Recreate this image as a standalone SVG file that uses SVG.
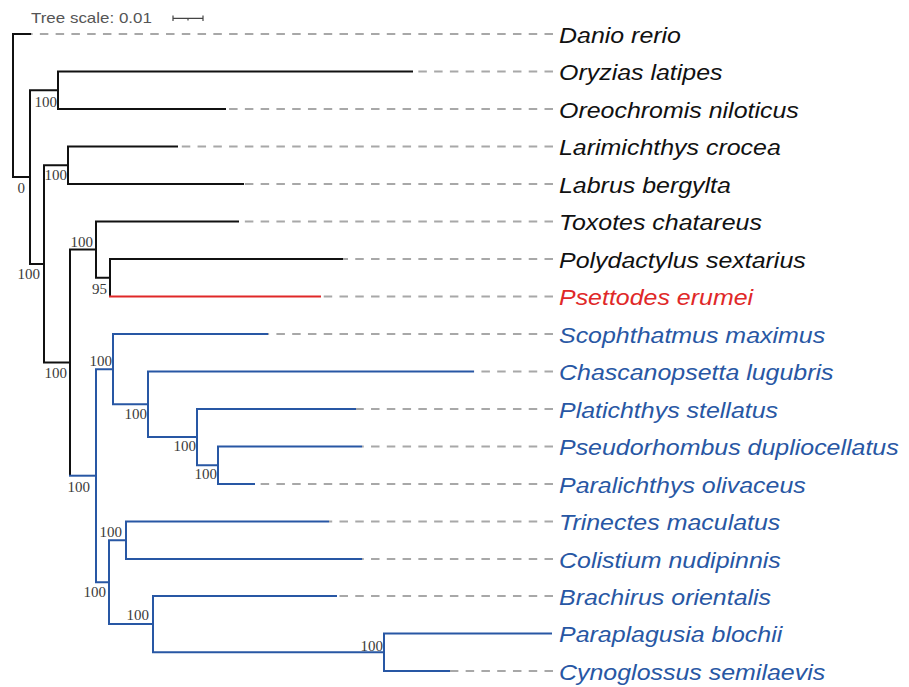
<svg xmlns="http://www.w3.org/2000/svg" width="909" height="687" viewBox="0 0 909 687">
<style>
.br{fill:none;stroke:#111;stroke-width:2;stroke-linejoin:miter;stroke-linecap:butt}
.bl{fill:none;stroke:#2857a4;stroke-width:2;stroke-linejoin:miter;stroke-linecap:butt}
.rd{fill:none;stroke:#e02828;stroke-width:2}
.ds{fill:none;stroke:#a8a8a8;stroke-width:2;stroke-dasharray:8.5 7.27}
.lb{font-family:"Liberation Sans",Arial,sans-serif;font-style:italic;font-size:23px}
.k{fill:#111}.b{fill:#2857a4}.r{fill:#e02828}
.bs{font-family:"Liberation Serif","Times New Roman",serif;font-size:15px;fill:#3a3a3a;text-anchor:end}
</style>
<rect width="909" height="687" fill="#fff"/>
<g id="scale">
<text transform="translate(31,22.5) scale(1.13,1)" font-family="Liberation Sans, Arial, sans-serif" font-size="15" fill="#555">Tree scale: 0.01</text>
<path d="M173,18.3 H203 M173,15.5 V21 M203,15.5 V21 M188,18.3 V20.5" stroke="#444" stroke-width="1.2" fill="none"/>
</g>
<g id="connectors">
<path class="ds" d="M553,34 H31"/>
<path class="ds" d="M553,71.5 H413"/>
<path class="ds" d="M553,109 H226"/>
<path class="ds" d="M553,146.5 H178"/>
<path class="ds" d="M553,184 H244"/>
<path class="ds" d="M553,221.5 H239"/>
<path class="ds" d="M553,259 H343"/>
<path class="ds" d="M553,296.5 H321"/>
<path class="ds" d="M553,334 H268"/>
<path class="ds" d="M553,371.5 H474"/>
<path class="ds" d="M553,409 H356"/>
<path class="ds" d="M553,446.5 H362"/>
<path class="ds" d="M553,484 H255"/>
<path class="ds" d="M553,521.5 H329"/>
<path class="ds" d="M553,559 H362"/>
<path class="ds" d="M553,596 H337"/>
<path class="ds" d="M553,671 H450"/>
<path id="e-root" class="br" d="M31,34 H13 V177.1 H30"/>
<path id="e-A" class="br" d="M58,90.25 H30 V263.9 H44"/>
<path id="e-P1" class="br" d="M413,71.5 H58 V109 H226"/>
<path id="e-B" class="br" d="M68,165.25 H44 V362.6 H70"/>
<path id="e-P2" class="br" d="M178,146.5 H68 V184 H244"/>
<path id="e-C" class="br" d="M96,249.6 H70 V475.7"/>
<path class="bl" d="M69,475.7 H96"/>
<path id="e-D" class="br" d="M239,221.5 H96 V277.75 H110"/>
<path id="e-E" class="br" d="M343,259 H110 V296.5"/>
<path class="rd" d="M109,296.5 H321"/>
<path id="e-F" class="bl" d="M113,369.2 H96 V582.2 H109"/>
<path id="e-G" class="bl" d="M268,334 H113 V404.3 H148"/>
<path id="e-H" class="bl" d="M474,371.5 H148 V437.1 H197"/>
<path id="e-I" class="bl" d="M356,409 H197 V465.25 H218"/>
<path id="e-J" class="bl" d="M362,446.5 H218 V484 H255"/>
<path id="e-K" class="bl" d="M126,540.25 H109 V624.1 H153"/>
<path id="e-L" class="bl" d="M329,521.5 H126 V559 H362"/>
<path id="e-M" class="bl" d="M337,596 H153 V652.25 H384"/>
<path id="e-N" class="bl" d="M552,633.5 H384 V671 H450"/>
</g>
<g id="support">
<text class="bs" x="25" y="193">0</text>
<text class="bs" x="57" y="107">100</text>
<text class="bs" x="67" y="180">100</text>
<text class="bs" x="40" y="279">100</text>
<text class="bs" x="67" y="378">100</text>
<text class="bs" x="93" y="247">100</text>
<text class="bs" x="107" y="294">95</text>
<text class="bs" x="112" y="366">100</text>
<text class="bs" x="147" y="419">100</text>
<text class="bs" x="196" y="451">100</text>
<text class="bs" x="217" y="479">100</text>
<text class="bs" x="90" y="492">100</text>
<text class="bs" x="122" y="537">100</text>
<text class="bs" x="106" y="597">100</text>
<text class="bs" x="149" y="620">100</text>
<text class="bs" x="383" y="651">100</text>
</g>
<g id="leaf-danio"><text class="lb k" transform="translate(559,42.5) scale(1.085,1)">Danio rerio</text></g>
<g id="leaf-oryzias"><text class="lb k" transform="translate(559,80) scale(1.085,1)">Oryzias latipes</text></g>
<g id="leaf-oreochromis"><text class="lb k" transform="translate(559,117.5) scale(1.085,1)">Oreochromis niloticus</text></g>
<g id="leaf-larimichthys"><text class="lb k" transform="translate(559,155) scale(1.085,1)">Larimichthys crocea</text></g>
<g id="leaf-labrus"><text class="lb k" transform="translate(559,192.5) scale(1.085,1)">Labrus bergylta</text></g>
<g id="leaf-toxotes"><text class="lb k" transform="translate(559,230) scale(1.085,1)">Toxotes chatareus</text></g>
<g id="leaf-polydactylus"><text class="lb k" transform="translate(559,267.5) scale(1.085,1)">Polydactylus sextarius</text></g>
<g id="leaf-psettodes"><text class="lb r" transform="translate(559,305) scale(1.085,1)">Psettodes erumei</text></g>
<g id="leaf-scophthatmus"><text class="lb b" transform="translate(559,342.5) scale(1.085,1)">Scophthatmus maximus</text></g>
<g id="leaf-chascanopsetta"><text class="lb b" transform="translate(559,380) scale(1.085,1)">Chascanopsetta lugubris</text></g>
<g id="leaf-platichthys"><text class="lb b" transform="translate(559,417.5) scale(1.085,1)">Platichthys stellatus</text></g>
<g id="leaf-pseudorhombus"><text class="lb b" transform="translate(559,455) scale(1.085,1)">Pseudorhombus dupliocellatus</text></g>
<g id="leaf-paralichthys"><text class="lb b" transform="translate(559,492.5) scale(1.085,1)">Paralichthys olivaceus</text></g>
<g id="leaf-trinectes"><text class="lb b" transform="translate(559,530) scale(1.085,1)">Trinectes maculatus</text></g>
<g id="leaf-colistium"><text class="lb b" transform="translate(559,567.5) scale(1.085,1)">Colistium nudipinnis</text></g>
<g id="leaf-brachirus"><text class="lb b" transform="translate(559,604.5) scale(1.085,1)">Brachirus orientalis</text></g>
<g id="leaf-paraplagusia"><text class="lb b" transform="translate(559,642) scale(1.085,1)">Paraplagusia blochii</text></g>
<g id="leaf-cynoglossus"><text class="lb b" transform="translate(559,679.5) scale(1.085,1)">Cynoglossus semilaevis</text></g>
</svg>
